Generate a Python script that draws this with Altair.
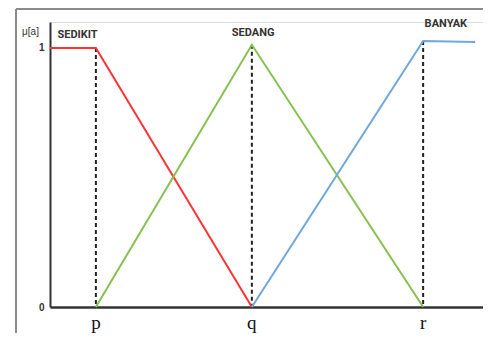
import altair as alt
import pandas as pd

# x positions in axis units, y in membership degree
p_x, q_x, r_x, end_x = 10.5, 46.2, 85.4, 97.3

sedikit_x = [0.0, p_x, q_x]
sedikit_y = [1.0, 1.0, 0.0]
sedang_x = [p_x, q_x, r_x]
sedang_y = [0.0, 1.012, 0.0]
banyak_x = [q_x, r_x, end_x]
banyak_y = [0.0, 1.027, 1.023]

tick_names = ["p", "q", "r"]
tick_pos = [p_x, q_x, r_x]
tick_top = [1.0, 1.012, 1.027]

set_names = ["SEDIKIT", "SEDANG", "BANYAK"]
set_label_x = [6.3, 46.5, 90.6]
set_label_y = [1.05, 1.058, 1.093]

colors = {"SEDIKIT": "#FF3333", "SEDANG": "#86C150", "BANYAK": "#6FA8DC"}

rows = []
for name, xs, ys in [("SEDIKIT", sedikit_x, sedikit_y), ("SEDANG", sedang_x, sedang_y), ("BANYAK", banyak_x, banyak_y)]:
    for i, (x, y) in enumerate(zip(xs, ys)):
        rows.append({"set": name, "x": x, "y": y, "order": i})
lines_df = pd.DataFrame(rows)
ticks_df = pd.DataFrame({"name": tick_names, "x": tick_pos, "top": tick_top})
labels_df = pd.DataFrame({"name": set_names, "x": set_label_x, "y": set_label_y})

W, H = 433, 285
xs = alt.Scale(domain=[0, 99.1], nice=False, zero=False)
ys = alt.Scale(domain=[0, 1.1], nice=False, zero=False)

x_axis = alt.Axis(values=[], ticks=False, labels=False, title=None, grid=False,
                  domainColor="#333333", domainWidth=2.5)
y_axis = alt.Axis(values=[0, 1], format="d", ticks=False, grid=False, labelFont="Liberation Sans",
                  labelFontSize=10, labelFontWeight="bold", labelColor="#333333", labelPadding=6,
                  domainColor="#333333", domainWidth=2, title="μ[a]", titleAngle=0,
                  titleX=-20, titleY=9, titleFont="Liberation Sans Narrow, Liberation Sans",
                  titleFontSize=10, titleFontWeight="normal", titleColor="#333333",
                  titleAlign="center", titleBaseline="middle")

frame_top = alt.Chart(ticks_df).mark_rule(color="#8a8a8a", strokeWidth=1.5, clip=False).encode(
    x=alt.value(-34), x2=alt.value(W + 10), y=alt.value(-13))
frame_left = alt.Chart(ticks_df).mark_rule(color="#8a8a8a", strokeWidth=1.5, clip=False).encode(
    x=alt.value(-34), y=alt.value(-13), y2=alt.value(H + 45))

dashes = alt.Chart(ticks_df).mark_rule(color="#222222", strokeWidth=2, strokeDash=[4, 3]).encode(
    x=alt.X("x:Q", scale=xs, axis=x_axis),
    y=alt.Y("top:Q", scale=ys, axis=y_axis),
    y2=alt.datum(0))

lines = alt.Chart(lines_df).mark_line(strokeWidth=2).encode(
    x=alt.X("x:Q", scale=xs),
    y=alt.Y("y:Q", scale=ys),
    order="order:Q",
    color=alt.Color("set:N", scale=alt.Scale(domain=list(colors), range=list(colors.values())), legend=None))

tick_text = alt.Chart(ticks_df).mark_text(font="Liberation Serif, DejaVu Serif", fontSize=19,
                                          color="#111111", baseline="middle").encode(
    x=alt.X("x:Q", scale=xs), y=alt.value(H + 16), text="name:N")

set_text = alt.Chart(labels_df).mark_text(font="Liberation Sans Narrow, Roboto, Liberation Sans",
                                          fontSize=11, fontWeight="bold", color="#333333",
                                          baseline="middle").encode(
    x=alt.X("x:Q", scale=xs), y=alt.Y("y:Q", scale=ys), text="name:N")

chart = alt.layer(frame_top, frame_left, dashes, lines, tick_text, set_text).properties(
    width=W, height=H,
    padding={"left": 42, "top": 14, "right": 0, "bottom": 26},
    autosize=alt.AutoSizeParams(type="none"),
).configure_view(stroke=None).configure(background="white")

chart.save("out.html", embed_options={"renderer": "svg", "actions": False})
